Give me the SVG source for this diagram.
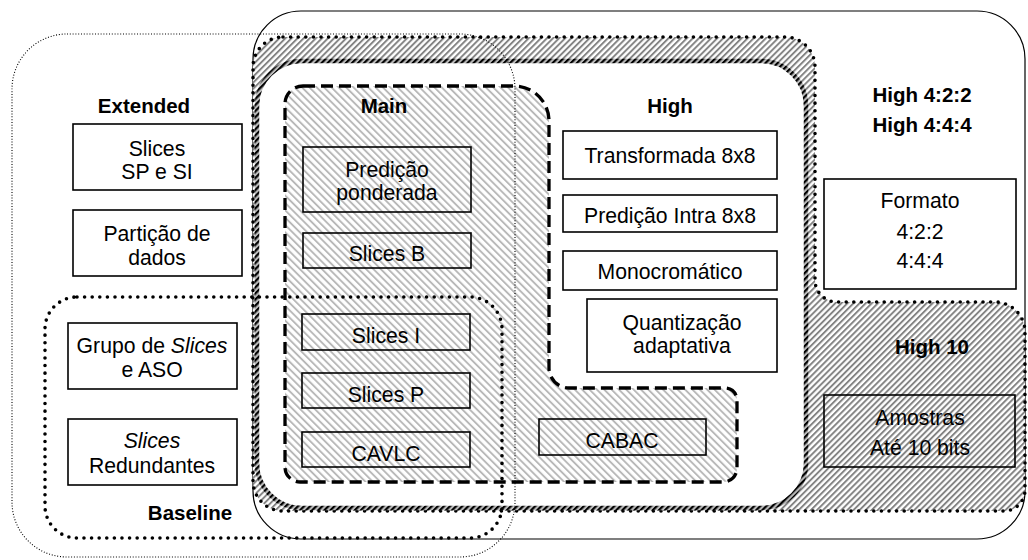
<svg xmlns="http://www.w3.org/2000/svg" width="1028" height="560" viewBox="0 0 1028 560">
  <defs>
    <pattern id="hatch10" width="4.3" height="4.3" patternUnits="userSpaceOnUse" patternTransform="rotate(45)">
      <rect width="4.3" height="4.3" fill="#ffffff"/>
      <line x1="1" y1="0" x2="1" y2="4.3" stroke="#808080" stroke-width="1.9"/>
    </pattern>
    <pattern id="hatchMain" width="5.2" height="5.2" patternUnits="userSpaceOnUse" patternTransform="rotate(-45)">
      <rect width="5.2" height="5.2" fill="#ffffff"/>
      <line x1="1" y1="0" x2="1" y2="5.2" stroke="#b4b4b4" stroke-width="1.8"/>
    </pattern>
    <pattern id="hatchDark" width="4.3" height="4.3" patternUnits="userSpaceOnUse" patternTransform="rotate(45)">
      <rect width="4.3" height="4.3" fill="#bbbbbb"/>
      <line x1="1" y1="0" x2="1" y2="4.3" stroke="#000000" stroke-width="2.3"/>
    </pattern>
  </defs>
  <style>
    text { font-family: "Liberation Sans", Arial, sans-serif; font-size: 21.2px; fill: #000; text-anchor: middle; }
    .lbl { font-weight: bold; font-size: 20.5px; }
    .box { fill: #ffffff; stroke: #000; stroke-width: 1.6; }
    .tbox { fill: none; stroke: #000; stroke-width: 1.6; }
    .thindot { fill: none; stroke: #000; stroke-width: 1.1; stroke-dasharray: 1 1.8; }
    .bolddot { stroke: #000; stroke-width: 3.6; stroke-dasharray: 0 7.6; stroke-linecap: round; }
    .dash { stroke: #000; stroke-width: 3.3; stroke-dasharray: 12 6; }
  </style>
  <rect width="1028" height="560" fill="#ffffff"/>

  <g id="high444">
    <rect x="253" y="11" width="772" height="528" rx="48" ry="48" fill="none" stroke="#000" stroke-width="1.2"/>
  </g>

  <g id="high10">
    <path class="bolddot" fill="url(#hatch10)" d="M 283 37 H 785 A 30 30 0 0 1 815 67 V 280 A 22 22 0 0 0 837 302 H 995 A 30 30 0 0 1 1025 332 V 490 A 21 21 0 0 1 1004 511 H 283 A 30 30 0 0 1 253 481 V 67 A 30 30 0 0 1 283 37 Z"/>
  </g>

  <g id="high">
    <rect x="257" y="61" width="549" height="447" rx="45" ry="45" fill="#ffffff" stroke="url(#hatchDark)" stroke-width="4.5"/>
  </g>

  <g id="main">
    <path class="dash" fill="url(#hatchMain)" d="M 303 86 H 514 A 35 35 0 0 1 549 121 V 368 A 20 20 0 0 0 569 388 H 725 A 12 12 0 0 1 737 400 V 468 A 14 14 0 0 1 723 482 H 300 A 15 15 0 0 1 285 467 V 104 A 18 18 0 0 1 303 86 Z"/>
  </g>

  <g id="extended">
    <rect class="thindot" x="12" y="34" width="503" height="523" rx="55" ry="55"/>
  </g>

  <g id="baseline">
    <rect class="bolddot" fill="none" x="45" y="297" width="457" height="241" rx="32" ry="32"/>
  </g>

  <g id="connectors"></g>

  <g id="labels">
    <text class="lbl" x="144" y="113">Extended</text>
    <text class="lbl" x="384" y="113">Main</text>
    <text class="lbl" x="670" y="113">High</text>
    <text class="lbl" x="922" y="102">High 4:2:2</text>
    <text class="lbl" x="922" y="132">High 4:4:4</text>
    <text class="lbl" x="932" y="354">High 10</text>
    <text class="lbl" x="190" y="520">Baseline</text>
  </g>

  <g id="n-slices-sp-si">
    <rect class="box" x="73" y="124" width="169" height="66"/>
    <text x="157" y="156">Slices</text>
    <text x="157" y="179">SP e SI</text>
  </g>
  <g id="n-particao">
    <rect class="box" x="73" y="210" width="169" height="66"/>
    <text x="157" y="241">Partição de</text>
    <text x="157" y="265">dados</text>
  </g>
  <g id="n-grupo-slices">
    <rect class="box" x="68" y="323" width="169" height="66"/>
    <text x="152" y="353">Grupo de <tspan font-style="italic">Slices</tspan></text>
    <text x="152" y="377">e ASO</text>
  </g>
  <g id="n-slices-redundantes">
    <rect class="box" x="68" y="419" width="169" height="66"/>
    <text x="152" y="448" font-style="italic">Slices</text>
    <text x="152" y="473">Redundantes</text>
  </g>

  <g id="n-predicao-ponderada">
    <rect class="tbox" x="303" y="147" width="168" height="65"/>
    <text x="387" y="177">Predição</text>
    <text x="387" y="200">ponderada</text>
  </g>
  <g id="n-slices-b">
    <rect class="tbox" x="303" y="233" width="168" height="35"/>
    <text x="387" y="261">Slices B</text>
  </g>
  <g id="n-slices-i">
    <rect class="tbox" x="302" y="314" width="168" height="36"/>
    <text x="386" y="343">Slices I</text>
  </g>
  <g id="n-slices-p">
    <rect class="tbox" x="302" y="373" width="168" height="35"/>
    <text x="386" y="402">Slices P</text>
  </g>
  <g id="n-cavlc">
    <rect class="tbox" x="302" y="432" width="168" height="35"/>
    <text x="386" y="461">CAVLC</text>
  </g>
  <g id="n-cabac">
    <rect class="tbox" x="539" y="419" width="167" height="36"/>
    <text x="622" y="448">CABAC</text>
  </g>

  <g id="n-transformada">
    <rect class="box" x="563" y="131" width="214" height="48"/>
    <text x="670" y="163">Transformada 8x8</text>
  </g>
  <g id="n-predicao-intra">
    <rect class="box" x="563" y="195" width="214" height="37"/>
    <text x="670" y="223">Predição Intra 8x8</text>
  </g>
  <g id="n-monocromatico">
    <rect class="box" x="563" y="251" width="214" height="39"/>
    <text x="670" y="279">Monocromático</text>
  </g>
  <g id="n-quantizacao">
    <rect class="box" x="587" y="299" width="190" height="73"/>
    <text x="682" y="330">Quantização</text>
    <text x="682" y="353">adaptativa</text>
  </g>

  <g id="n-formato">
    <rect class="box" x="824" y="179" width="192" height="110"/>
    <text x="920" y="208">Formato</text>
    <text x="920" y="239">4:2:2</text>
    <text x="920" y="268">4:4:4</text>
  </g>
  <g id="n-amostras">
    <rect class="tbox" x="824" y="395" width="191" height="72"/>
    <text x="920" y="425">Amostras</text>
    <text x="920" y="455">Até 10 bits</text>
  </g>
</svg>
